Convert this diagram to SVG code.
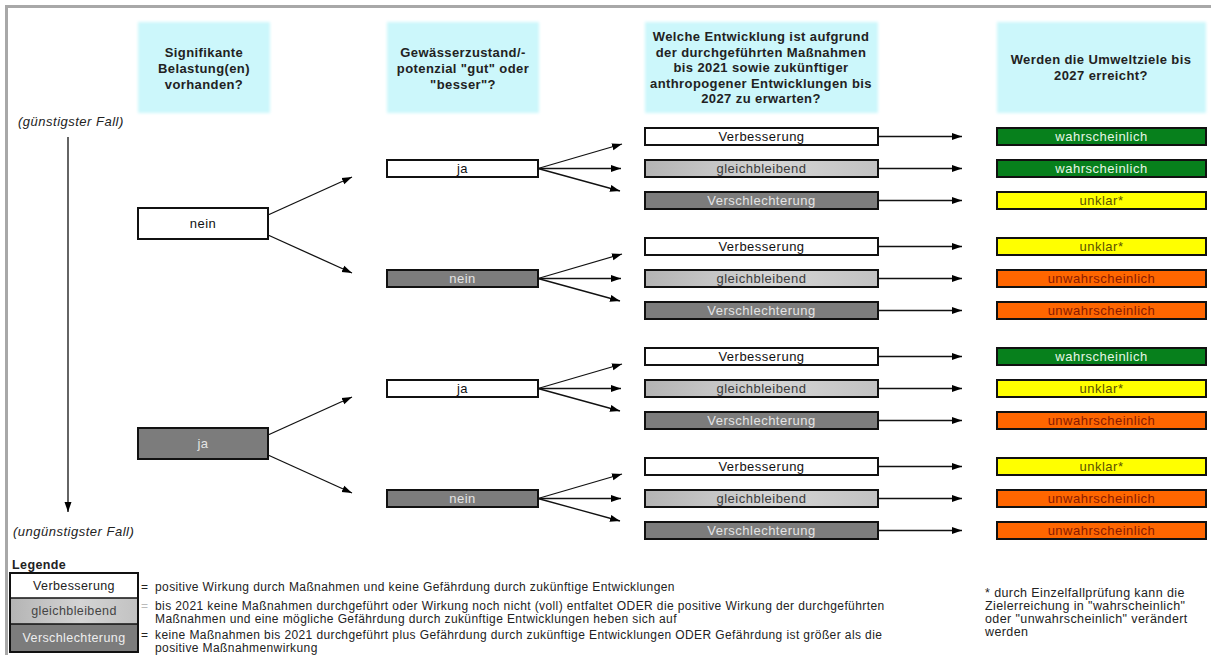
<svg xmlns="http://www.w3.org/2000/svg" width="1215" height="655" viewBox="0 0 1215 655">
<defs>
<marker id="ah" markerUnits="userSpaceOnUse" markerWidth="10" markerHeight="8" refX="10" refY="4" orient="auto">
<path d="M0,0.5 L10,4 L0,7.5 z" fill="#000"/>
</marker>
<linearGradient id="lg" x1="0" y1="0" x2="1" y2="0">
<stop offset="0" stop-color="#b4b4b4"/>
<stop offset="0.55" stop-color="#d4d4d4"/>
<stop offset="1" stop-color="#c2c2c2"/>
</linearGradient>
<filter id="soft" x="-5%" y="-5%" width="110%" height="110%"><feGaussianBlur stdDeviation="1.5"/></filter>
</defs>
<style>
text{font-family:"Liberation Sans",Arial,sans-serif}
.hd{fill:#ccf7fb}
.ht{font-size:13px;font-weight:bold;fill:#222;text-anchor:middle;letter-spacing:0.4px}
.bx{stroke:#111;stroke-width:2}
.w{fill:#fff}
.g{fill:url(#lg)}
.d{fill:#7c7c7c}
.gr{fill:#07801c}
.ye{fill:#ffff00}
.or{fill:#ff6600}
.lb{font-size:13px;text-anchor:middle;letter-spacing:0.5px}
.tw{fill:#111}
.tg{fill:#3a3a3a}
.td{fill:#e4e4e4}
.tgr{fill:#e6f6e6}
.tye{fill:#5a5200}
.tor{fill:#8a1a00}
.c line{stroke:#111;stroke-width:1.3;marker-end:url(#ah)}
.it{font-size:13px;font-style:italic;fill:#222;letter-spacing:0.5px}
.lt{font-size:12px;fill:#222;letter-spacing:0.4px}
.ll{font-size:12.5px;text-anchor:middle;letter-spacing:0.4px}
</style>
<rect x="0" y="0" width="1215" height="655" fill="#fff"/>
<g id="frame" stroke="#a8a8a8" stroke-width="3">
<line x1="5" y1="6.5" x2="1211" y2="6.5"/>
<line x1="6.5" y1="5" x2="6.5" y2="655"/>
</g>

<g id="header1"><rect class="hd" x="138" y="22" width="132" height="91" filter="url(#soft)"/>
<text class="ht"><tspan x="204" y="57">Signifikante</tspan><tspan x="204" y="73">Belastung(en)</tspan><tspan x="204" y="89">vorhanden?</tspan></text></g>
<g id="header2"><rect class="hd" x="387" y="22" width="152" height="91" filter="url(#soft)"/>
<text class="ht"><tspan x="463" y="57">Gewässerzustand/-</tspan><tspan x="463" y="73">potenzial "gut" oder</tspan><tspan x="463" y="89">"besser"?</tspan></text></g>
<g id="header3"><rect class="hd" x="645" y="22" width="233" height="91" filter="url(#soft)"/>
<text class="ht"><tspan x="761" y="41">Welche Entwicklung ist aufgrund</tspan><tspan x="761" y="56.5">der durchgeführten Maßnahmen</tspan><tspan x="761" y="72">bis 2021 sowie zukünftiger</tspan><tspan x="761" y="87.5">anthropogener Entwicklungen bis</tspan><tspan x="761" y="103">2027 zu erwarten?</tspan></text></g>
<g id="header4"><rect class="hd" x="997" y="22" width="209" height="91" filter="url(#soft)"/>
<text class="ht"><tspan x="1101" y="64">Werden die Umweltziele bis</tspan><tspan x="1101" y="80">2027 erreicht?</tspan></text></g>

<g id="axis">
<text class="it" x="18" y="126">(günstigster Fall)</text>
<text class="it" x="13" y="536">(ungünstigster Fall)</text>
</g>

<g id="connectors" class="c">
<line x1="68" y1="137" x2="68" y2="512"/>
<line x1="268" y1="215" x2="352" y2="177"/>
<line x1="268" y1="235" x2="352" y2="273"/>
<line x1="268" y1="435" x2="352" y2="397"/>
<line x1="268" y1="455" x2="352" y2="493"/>
<line x1="538" y1="168.5" x2="622" y2="144"/>
<line x1="538" y1="168.5" x2="621" y2="168.5"/>
<line x1="538" y1="168.5" x2="620" y2="191"/>
<line x1="538" y1="278.5" x2="622" y2="254"/>
<line x1="538" y1="278.5" x2="621" y2="278.5"/>
<line x1="538" y1="278.5" x2="620" y2="301"/>
<line x1="538" y1="388.5" x2="622" y2="364"/>
<line x1="538" y1="388.5" x2="621" y2="388.5"/>
<line x1="538" y1="388.5" x2="620" y2="411"/>
<line x1="538" y1="498.5" x2="622" y2="474"/>
<line x1="538" y1="498.5" x2="621" y2="498.5"/>
<line x1="538" y1="498.5" x2="620" y2="521"/>
<line x1="878" y1="136.5" x2="962" y2="136.5"/>
<line x1="878" y1="168.5" x2="962" y2="168.5"/>
<line x1="878" y1="200.5" x2="962" y2="200.5"/>
<line x1="878" y1="246.5" x2="962" y2="246.5"/>
<line x1="878" y1="278.5" x2="962" y2="278.5"/>
<line x1="878" y1="310.5" x2="962" y2="310.5"/>
<line x1="878" y1="356.5" x2="962" y2="356.5"/>
<line x1="878" y1="388.5" x2="962" y2="388.5"/>
<line x1="878" y1="420.5" x2="962" y2="420.5"/>
<line x1="878" y1="466.5" x2="962" y2="466.5"/>
<line x1="878" y1="498.5" x2="962" y2="498.5"/>
<line x1="878" y1="530.5" x2="962" y2="530.5"/>
</g>

<g id="c1-nein"><rect class="bx w" x="138" y="208" width="130" height="31"/><text class="lb tw" x="203" y="228">nein</text></g>
<g id="c1-ja"><rect class="bx d" x="138" y="428" width="130" height="31"/><text class="lb td" x="203" y="448">ja</text></g>

<g id="c2-ja1"><rect class="bx w" x="387" y="160" width="151" height="17"/><text class="lb tw" x="462.5" y="173">ja</text></g>
<g id="c2-nein1"><rect class="bx d" x="387" y="270" width="151" height="17"/><text class="lb td" x="462.5" y="283">nein</text></g>
<g id="c2-ja2"><rect class="bx w" x="387" y="380" width="151" height="17"/><text class="lb tw" x="462.5" y="393">ja</text></g>
<g id="c2-nein2"><rect class="bx d" x="387" y="490" width="151" height="17"/><text class="lb td" x="462.5" y="503">nein</text></g>

<g id="c3-1"><rect class="bx w" x="645" y="128" width="233" height="17"/><text class="lb tw" x="761.5" y="141">Verbesserung</text></g>
<g id="c3-2"><rect class="bx g" x="645" y="160" width="233" height="17"/><text class="lb tg" x="761.5" y="173">gleichbleibend</text></g>
<g id="c3-3"><rect class="bx d" x="645" y="192" width="233" height="17"/><text class="lb td" x="761.5" y="205">Verschlechterung</text></g>
<g id="c3-4"><rect class="bx w" x="645" y="238" width="233" height="17"/><text class="lb tw" x="761.5" y="251">Verbesserung</text></g>
<g id="c3-5"><rect class="bx g" x="645" y="270" width="233" height="17"/><text class="lb tg" x="761.5" y="283">gleichbleibend</text></g>
<g id="c3-6"><rect class="bx d" x="645" y="302" width="233" height="17"/><text class="lb td" x="761.5" y="315">Verschlechterung</text></g>
<g id="c3-7"><rect class="bx w" x="645" y="348" width="233" height="17"/><text class="lb tw" x="761.5" y="361">Verbesserung</text></g>
<g id="c3-8"><rect class="bx g" x="645" y="380" width="233" height="17"/><text class="lb tg" x="761.5" y="393">gleichbleibend</text></g>
<g id="c3-9"><rect class="bx d" x="645" y="412" width="233" height="17"/><text class="lb td" x="761.5" y="425">Verschlechterung</text></g>
<g id="c3-10"><rect class="bx w" x="645" y="458" width="233" height="17"/><text class="lb tw" x="761.5" y="471">Verbesserung</text></g>
<g id="c3-11"><rect class="bx g" x="645" y="490" width="233" height="17"/><text class="lb tg" x="761.5" y="503">gleichbleibend</text></g>
<g id="c3-12"><rect class="bx d" x="645" y="522" width="233" height="17"/><text class="lb td" x="761.5" y="535">Verschlechterung</text></g>

<g id="c4-1"><rect class="bx gr" x="997" y="128" width="209" height="17"/><text class="lb tgr" x="1101.5" y="141">wahrscheinlich</text></g>
<g id="c4-2"><rect class="bx gr" x="997" y="160" width="209" height="17"/><text class="lb tgr" x="1101.5" y="173">wahrscheinlich</text></g>
<g id="c4-3"><rect class="bx ye" x="997" y="192" width="209" height="17"/><text class="lb tye" x="1101.5" y="205">unklar*</text></g>
<g id="c4-4"><rect class="bx ye" x="997" y="238" width="209" height="17"/><text class="lb tye" x="1101.5" y="251">unklar*</text></g>
<g id="c4-5"><rect class="bx or" x="997" y="270" width="209" height="17"/><text class="lb tor" x="1101.5" y="283">unwahrscheinlich</text></g>
<g id="c4-6"><rect class="bx or" x="997" y="302" width="209" height="17"/><text class="lb tor" x="1101.5" y="315">unwahrscheinlich</text></g>
<g id="c4-7"><rect class="bx gr" x="997" y="348" width="209" height="17"/><text class="lb tgr" x="1101.5" y="361">wahrscheinlich</text></g>
<g id="c4-8"><rect class="bx ye" x="997" y="380" width="209" height="17"/><text class="lb tye" x="1101.5" y="393">unklar*</text></g>
<g id="c4-9"><rect class="bx or" x="997" y="412" width="209" height="17"/><text class="lb tor" x="1101.5" y="425">unwahrscheinlich</text></g>
<g id="c4-10"><rect class="bx ye" x="997" y="458" width="209" height="17"/><text class="lb tye" x="1101.5" y="471">unklar*</text></g>
<g id="c4-11"><rect class="bx or" x="997" y="490" width="209" height="17"/><text class="lb tor" x="1101.5" y="503">unwahrscheinlich</text></g>
<g id="c4-12"><rect class="bx or" x="997" y="522" width="209" height="17"/><text class="lb tor" x="1101.5" y="535">unwahrscheinlich</text></g>

<g id="legend">
<text x="12" y="569" style="font-size:12.5px;font-weight:bold;fill:#222;letter-spacing:0.4px">Legende</text>
<rect class="w" x="10" y="573" width="128" height="25"/>
<rect class="g" x="10" y="598" width="128" height="26"/>
<rect class="d" x="10" y="624" width="128" height="28"/>
<rect x="10" y="573" width="128" height="79" fill="none" stroke="#111" stroke-width="2"/>
<line x1="10" y1="598" x2="138" y2="598" stroke="#111" stroke-width="1.5"/>
<line x1="10" y1="624" x2="138" y2="624" stroke="#111" stroke-width="1.5"/>
<text class="ll" x="74" y="590" style="fill:#222">Verbesserung</text>
<text class="ll" x="74" y="615" style="fill:#444">gleichbleibend</text>
<text class="ll" x="74" y="642" style="fill:#eee">Verschlechterung</text>
<text class="lt" x="141" y="591">=</text>
<text class="lt" x="155" y="591">positive Wirkung durch Maßnahmen und keine Gefährdung durch zukünftige Entwicklungen</text>
<text class="lt" x="141" y="610" style="fill:#bbb">=</text>
<text class="lt" x="155" y="610">bis 2021 keine Maßnahmen durchgeführt oder Wirkung noch nicht (voll) entfaltet ODER die positive Wirkung der durchgeführten</text>
<text class="lt" x="155" y="623">Maßnahmen und eine mögliche Gefährdung durch zukünftige Entwicklungen heben sich auf</text>
<text class="lt" x="141" y="639">=</text>
<text class="lt" x="155" y="639">keine Maßnahmen bis 2021 durchgeführt plus Gefährdung durch zukünftige Entwicklungen ODER Gefährdung ist größer als die</text>
<text class="lt" x="155" y="652">positive Maßnahmenwirkung</text>
</g>

<g id="footnote">
<text class="lt" style="font-size:12.5px"><tspan x="985" y="597">* durch Einzelfallprüfung kann die</tspan><tspan x="985" y="610">Zielerreichung in "wahrscheinlich"</tspan><tspan x="985" y="623">oder "unwahrscheinlich" verändert</tspan><tspan x="985" y="636">werden</tspan></text>
</g>
</svg>
